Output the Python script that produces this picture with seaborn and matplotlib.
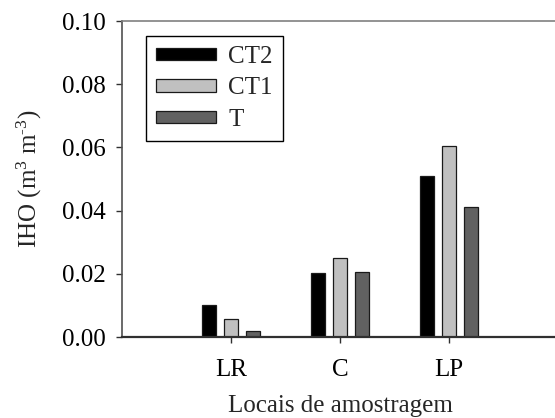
import pandas as pd
import numpy as np
import seaborn as sns
import matplotlib.pyplot as plt
from matplotlib.ticker import FormatStrFormatter

locais = ['LR', 'C', 'LP']
tratamentos = ['CT2', 'CT1', 'T']
ct2 = [0.0102, 0.0201, 0.0510]
ct1 = [0.0056, 0.0250, 0.0604]
t = [0.0020, 0.0206, 0.0411]

sns.set_style('ticks')
plt.rcParams['font.family'] = ['Liberation Serif', 'DejaVu Serif']
plt.rcParams['mathtext.fontset'] = 'custom'
plt.rcParams['mathtext.rm'] = 'Liberation Serif'
plt.rcParams['mathtext.it'] = 'Liberation Serif:italic'

df = pd.DataFrame({
    'local': locais * 3,
    'trat': [tr for tr in tratamentos for _ in locais],
    'iho': ct2 + ct1 + t,
})

fs = 18
fig = plt.figure(figsize=(5.55, 4.18), dpi=100)
ax = fig.add_axes([122 / 555, 1 - 337 / 418, 436 / 555, 316 / 418])

sns.barplot(data=df, x='local', y='iho', hue='trat', order=locais, hue_order=tratamentos,
            palette=['black', '#c0c0c0', '#616161'], width=0.6, gap=0.36,
            edgecolor='#1a1a1a', linewidth=0.9, ax=ax)

ax.set_xlim(-1, 3)
ax.set_ylim(0, 0.10)
ax.set_yticks(np.arange(0, 0.101, 0.02))
ax.yaxis.set_major_formatter(FormatStrFormatter('%.2f'))
ax.tick_params(axis='both', direction='out', length=4, width=1, labelsize=fs, colors='#303030', labelcolor='black')
ax.tick_params(axis='y', pad=8)
ax.tick_params(axis='x', pad=12)

ax.set_xlabel('Locais de amostragem', fontsize=fs, labelpad=10)
ax.set_ylabel(r'IHO (m$^{3}$ m$^{\text{-3}}$)', fontsize=fs, labelpad=13)

ax.spines['right'].set_visible(False)
ax.spines['top'].set_visible(True)
ax.spines['top'].set_color('#808080')
ax.spines['top'].set_linewidth(1.2)
ax.spines['left'].set_color('#505050')
ax.spines['left'].set_linewidth(1.2)
ax.spines['bottom'].set_color('#303030')
ax.spines['bottom'].set_linewidth(1.6)

leg = ax.legend(loc='upper left', bbox_to_anchor=(0.054, 0.953), borderaxespad=0, fontsize=fs,
                handlelength=2.4, handleheight=0.4, labelspacing=0.38,
                handletextpad=0.5, borderpad=0.4, fancybox=False, framealpha=1,
                edgecolor='black', title=None)
leg.get_frame().set_linewidth(1.0)

fig.savefig('out.png', dpi=100)
